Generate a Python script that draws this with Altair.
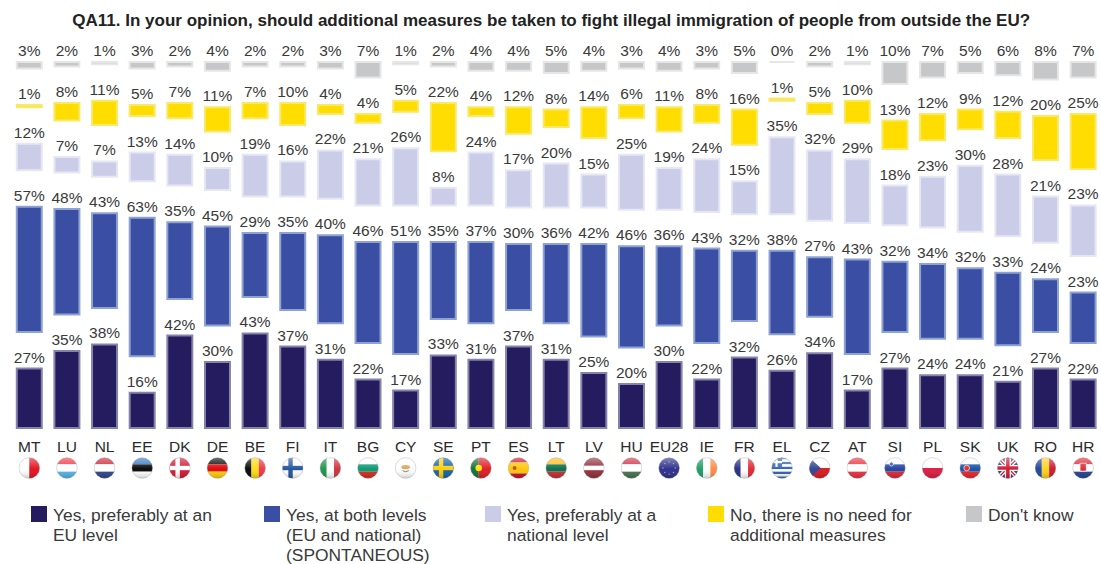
import base64
import altair as alt
import pandas as pd

FONT = "Liberation Sans"

countries = ["MT", "LU", "NL", "EE", "DK", "DE", "BE", "FI", "IT", "BG", "CY", "SE", "PT", "ES", "LT",
             "LV", "HU", "EU28", "IE", "FR", "EL", "CZ", "AT", "SI", "PL", "SK", "UK", "RO", "HR"]
eu_level = [27, 35, 38, 16, 42, 30, 43, 37, 31, 22, 17, 33, 31, 37, 31, 25, 20, 30, 22, 32, 26, 34, 17, 27, 24, 24, 21, 27, 22]
both_levels = [57, 48, 43, 63, 35, 45, 29, 35, 40, 46, 51, 35, 37, 30, 36, 42, 46, 36, 43, 32, 38, 27, 43, 32, 34, 32, 33, 24, 23]
national = [12, 7, 7, 13, 14, 10, 19, 16, 22, 21, 26, 8, 24, 17, 20, 15, 25, 19, 24, 15, 35, 32, 29, 18, 23, 30, 28, 21, 23]
no_need = [1, 8, 11, 5, 7, 11, 7, 10, 4, 4, 5, 22, 4, 12, 8, 14, 6, 11, 8, 16, 1, 5, 10, 13, 12, 9, 12, 20, 25]
dont_know = [3, 2, 1, 3, 2, 4, 2, 2, 3, 7, 1, 2, 4, 4, 5, 4, 3, 4, 3, 5, 0, 2, 1, 10, 7, 5, 6, 8, 7]

series_names = ["Yes, preferably at an EU level", "Yes, at both levels (EU and national) (SPONTANEOUS)",
                "Yes, preferably at a national level", "No, there is no need for additional measures",
                "Don't know"]
series_values = [eu_level, both_levels, national, no_need, dont_know]
fills = ["#251b5f", "#3a4fa3", "#cbcde8", "#ffdd00", "#c6c7c8"]
outlines = ["#8483ab", "#8ea2d4", "#e6e7f4", "#f7e96a", "#e6e6e6"]

legend_lines = [["Yes, preferably at an", "EU level"],
                ["Yes, at both levels", "(EU and national)", "(SPONTANEOUS)"],
                ["Yes, preferably at a", "national level"],
                ["No, there is no need for", "additional measures"],
                ["Don't know"]]

# Each answer sits on its own floating band: segments stack, separated by a fixed gap.
GAP = 16.6
rows = []
for i, country in enumerate(countries):
    base = 0
    for j, name in enumerate(series_names):
        value = series_values[j][i]
        rows.append({"country": country, "series": name, "value": value,
                     "low": base + j * GAP, "high": base + value + j * GAP,
                     "label": f"{value}%"})
        base += value
bars_df = pd.DataFrame(rows)


def hstripes(*cols, weights=None):
    weights = weights or [1] * len(cols)
    total, y, out = sum(weights), 0, ""
    for c, w in zip(cols, weights):
        h = 100 * w / total
        out += f'<rect x="0" y="{y}" width="100" height="{h}" fill="{c}"/>'
        y += h
    return out


def vstripes(*cols, weights=None):
    weights = weights or [1] * len(cols)
    total, x, out = sum(weights), 0, ""
    for c, w in zip(cols, weights):
        h = 100 * w / total
        out += f'<rect x="{x}" y="0" width="{h}" height="100" fill="{c}"/>'
        x += h
    return out


def nordic(bg, cross, inner=None):
    out = f'<rect width="100" height="100" fill="{bg}"/>'
    out += f'<rect x="30" y="0" width="20" height="100" fill="{cross}"/><rect x="0" y="40" width="100" height="20" fill="{cross}"/>'
    return out


def crest(c="#c8102e", x=38, y=50, r=11, edge="#ffffff"):
    return f'<circle cx="{x}" cy="{y}" r="{r}" fill="{c}" stroke="{edge}" stroke-width="3"/>'


eu_stars = "".join(
    f'<circle cx="{50 + 28 * dx:.1f}" cy="{50 + 28 * dy:.1f}" r="3" fill="#c9b94a"/>'
    for dx, dy in [(0, -1), (.71, -.71), (1, 0), (.71, .71), (0, 1), (-.71, .71), (-1, 0), (-.71, -.71)])
greek = hstripes("#2a5bb0", "#ffffff", "#2a5bb0", "#ffffff", "#2a5bb0", "#ffffff", "#2a5bb0", "#ffffff", "#2a5bb0") + \
    '<rect width="50" height="45" fill="#2a5bb0"/><rect x="20" width="10" height="45" fill="#fff"/><rect y="18" width="50" height="10" fill="#fff"/>'
union = ('<rect width="100" height="100" fill="#23397f"/>'
         '<path d="M0 0L100 100M100 0L0 100" stroke="#fff" stroke-width="18"/>'
         '<path d="M0 0L100 100M100 0L0 100" stroke="#cf142b" stroke-width="6"/>'
         '<path d="M50 0V100M0 50H100" stroke="#fff" stroke-width="28"/>'
         '<path d="M50 0V100M0 50H100" stroke="#cf142b" stroke-width="16"/>')

flag_art = {
    "MT": vstripes("#ffffff", "#e30a17"),
    "LU": hstripes("#ef3340", "#ffffff", "#4fb3e8"),
    "NL": hstripes("#c8202f", "#ffffff", "#27408b"),
    "EE": hstripes("#2f74c0", "#000000", "#ffffff"),
    "DK": nordic("#d2102c", "#ffffff"),
    "DE": hstripes("#000000", "#dd0000", "#ffce00"),
    "BE": vstripes("#000000", "#ffd90c", "#ef3340"),
    "FI": nordic("#ffffff", "#1a4f9c"),
    "IT": vstripes("#149246", "#ffffff", "#ce2b37"),
    "BG": hstripes("#ffffff", "#00966e", "#d62612"),
    "CY": '<rect width="100" height="100" fill="#ffffff"/><ellipse cx="50" cy="46" rx="20" ry="10" fill="#d9a35a"/><path d="M36 62Q50 72 64 62" stroke="#4e7a3a" stroke-width="4" fill="none"/>',
    "SE": nordic("#0b5fa8", "#fecc00"),
    "PT": vstripes("#0b6b33", "#e0151f", weights=[2, 3]) + '<circle cx="40" cy="50" r="15" fill="#ffe000"/>',
    "ES": hstripes("#c60b1e", "#ffc400", "#c60b1e", weights=[1, 2, 1]) + '<circle cx="32" cy="50" r="9" fill="#b5451f"/>',
    "LT": hstripes("#fdb913", "#006a44", "#c1272d"),
    "LV": hstripes("#8f2a35", "#ffffff", "#8f2a35", weights=[2, 1, 2]),
    "HU": hstripes("#cd2a3e", "#ffffff", "#436f4d"),
    "EU28": f'<rect width="100" height="100" fill="#25298c"/>{eu_stars}',
    "IE": vstripes("#169b62", "#ffffff", "#ff883e"),
    "FR": vstripes("#1f2a80", "#ffffff", "#e1212c"),
    "EL": greek,
    "CZ": hstripes("#ffffff", "#d7141a") + '<path d="M0 0L55 50L0 100Z" fill="#2a3f8f"/>',
    "AT": hstripes("#ed2939", "#ffffff", "#ed2939"),
    "SI": hstripes("#ffffff", "#1a3fa0", "#e0202c") + crest("#1a3fa0", 34, 32, 9),
    "PL": hstripes("#ffffff", "#dc143c"),
    "SK": hstripes("#ffffff", "#0b4ea2", "#ee1c25") + crest("#ee1c25", 34, 50, 13),
    "UK": union,
    "RO": vstripes("#1c3f94", "#fcd116", "#ce1126"),
    "HR": hstripes("#e0202c", "#ffffff", "#1c3f94") + '<rect x="36" y="28" width="28" height="36" fill="#e0202c" stroke="#fff" stroke-width="3"/>',
}


def flag_uri(code):
    # Round, glossy badge: artwork clipped to a circle with a soft highlight and a shaded rim.
    svg = ('<svg xmlns="http://www.w3.org/2000/svg" viewBox="0 0 100 100">'
           '<defs><clipPath id="c"><circle cx="50" cy="50" r="47"/></clipPath>'
           '<linearGradient id="g" x1="0" y1="0" x2="0" y2="1">'
           '<stop offset="0" stop-color="#fff" stop-opacity=".45"/>'
           '<stop offset=".55" stop-color="#fff" stop-opacity=".05"/>'
           '<stop offset="1" stop-color="#000" stop-opacity=".22"/></linearGradient></defs>'
           f'<g clip-path="url(#c)">{flag_art[code]}<rect width="100" height="100" fill="url(#g)"/></g>'
           '<circle cx="50" cy="50" r="47" fill="none" stroke="#9a9a9a" stroke-opacity=".55" stroke-width="3"/></svg>')
    return "data:image/svg+xml;base64," + base64.b64encode(svg.encode()).decode()


flags_df = pd.DataFrame({"country": countries, "flag": [flag_uri(c) for c in countries]})

WIDTH = 1089.6
HEIGHT = 366
LEFT = 11.4
TOP = 62

x_enc = alt.X("country:N", sort=countries,
              scale=alt.Scale(paddingInner=0.3, paddingOuter=0.125),
              axis=alt.Axis(title=None, ticks=False, domain=False, labelAngle=0, labelPadding=11,
                            labelFont=FONT, labelFontSize=15.5, labelColor="#2b2b2b", grid=False))
y_scale = alt.Scale(domain=[0, 100 + 4 * GAP], nice=False, zero=False)

bars = alt.Chart(bars_df).mark_bar(width=25, strokeWidth=2).encode(
    x=x_enc,
    y=alt.Y("low:Q", scale=y_scale, axis=None),
    y2="high:Q",
    color=alt.Color("series:N", scale=alt.Scale(domain=series_names, range=fills), legend=None),
    stroke=alt.Stroke("series:N", scale=alt.Scale(domain=series_names, range=outlines), legend=None),
)
labels = alt.Chart(bars_df).mark_text(baseline="bottom", dy=-3, font=FONT, fontSize=15.5, color="#3a3a3a").encode(
    x=x_enc,
    y=alt.Y("high:Q", scale=y_scale, axis=None),
    text="label:N",
)
flags = alt.Chart(flags_df).mark_image(width=22, height=22).encode(
    x=x_enc,
    y=alt.value(HEIGHT + 40),
    url="flag:N",
)

layers = [bars, labels, flags]

# Key along the bottom edge: swatch, then its wrapped caption.
key_x = [31, 264, 485, 708, 966]
key_y = 444
line_step = 20
for name_lines, fill, kx in zip(legend_lines, fills, key_x):
    layers.append(alt.Chart(pd.DataFrame({"series": [name_lines[0]]})).mark_rect(color=fill).encode(
        x=alt.value(kx - LEFT), x2=alt.value(kx - LEFT + 16),
        y=alt.value(key_y), y2=alt.value(key_y + 16)))
    for n, line in enumerate(name_lines):
        layers.append(alt.Chart(pd.DataFrame({"line": [line]})).mark_text(
            align="left", baseline="alphabetic", font=FONT, fontSize=17.4, color="#3a3a3a").encode(
            x=alt.value(kx - LEFT + 22), y=alt.value(key_y + 14.5 + n * line_step), text="line:N"))

chart = alt.layer(*layers).properties(
    width=WIDTH, height=HEIGHT,
    title=alt.TitleParams("QA11. In your opinion, should additional measures be taken to fight illegal immigration of people from outside the EU?",
                          font=FONT, fontSize=17, fontWeight="bold", color="#222222", anchor="middle",
                          dx=-5, offset=14),
    padding={"left": LEFT, "top": TOP, "right": 0, "bottom": 136},
    autosize=alt.AutoSizeParams(type="none"),
).configure_view(stroke=None).resolve_scale(color="shared")

chart.save("out.html", embed_options={"renderer": "svg", "actions": False})
